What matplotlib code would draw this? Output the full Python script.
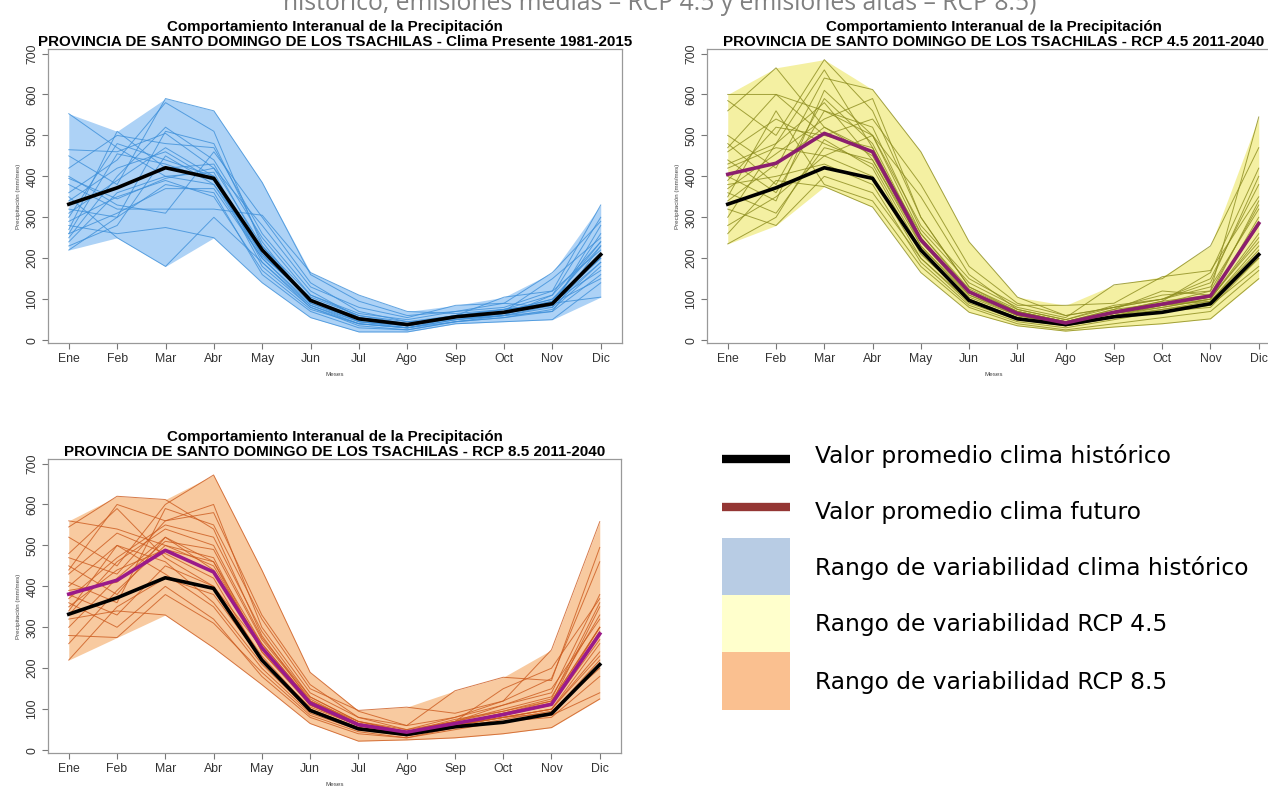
import numpy as np
import matplotlib
matplotlib.use("Agg")
from matplotlib import pyplot as plt
from matplotlib.patches import Rectangle
from matplotlib.lines import Line2D

meses = ["Ene", "Feb", "Mar", "Abr", "May", "Jun", "Jul", "Ago", "Sep", "Oct", "Nov", "Dic"]

# promedios mensuales (mm/mes)
prom_hist = [332, 372, 421, 395, 220, 97, 52, 38, 57, 68, 89, 209]
prom_rcp45 = [405, 432, 505, 460, 245, 118, 65, 42, 68, 88, 108, 285]
prom_rcp85 = [381, 415, 488, 435, 250, 115, 62, 44, 65, 87, 112, 284]

# series anuales, clima presente 1981-2015
anios_hist = [
    [553, 470, 400, 380, 200, 90, 45, 35, 55, 70, 95, 240],
    [465, 460, 505, 420, 230, 110, 60, 40, 60, 75, 90, 190],
    [450, 380, 590, 560, 385, 160, 95, 60, 70, 80, 120, 330],
    [420, 500, 480, 470, 260, 120, 55, 35, 55, 65, 85, 260],
    [400, 330, 310, 460, 300, 140, 70, 45, 60, 70, 100, 200],
    [380, 320, 320, 320, 305, 165, 110, 70, 65, 75, 90, 150],
    [360, 440, 580, 510, 230, 95, 50, 35, 55, 60, 80, 280],
    [350, 250, 180, 300, 190, 85, 40, 30, 50, 65, 90, 105],
    [340, 420, 460, 390, 210, 100, 45, 30, 45, 60, 70, 230],
    [320, 300, 510, 480, 240, 90, 50, 40, 60, 75, 110, 300],
    [300, 480, 440, 400, 180, 80, 35, 25, 45, 55, 75, 180],
    [290, 350, 390, 350, 170, 75, 40, 30, 50, 60, 85, 210],
    [280, 260, 275, 250, 140, 55, 20, 20, 40, 45, 50, 140],
    [270, 510, 420, 430, 220, 100, 55, 40, 60, 70, 150, 250],
    [260, 310, 370, 370, 200, 85, 45, 35, 55, 65, 95, 170],
    [250, 400, 520, 440, 250, 110, 65, 50, 70, 90, 165, 290],
    [240, 360, 400, 410, 190, 80, 40, 30, 55, 65, 90, 200],
    [230, 280, 450, 380, 220, 95, 50, 35, 60, 70, 100, 230],
    [220, 300, 380, 360, 160, 70, 30, 25, 45, 55, 70, 160],
    [310, 390, 470, 400, 210, 95, 55, 40, 60, 105, 120, 220],
    [395, 345, 395, 420, 280, 130, 80, 55, 85, 90, 80, 190],
    [260, 455, 430, 390, 205, 105, 60, 45, 50, 60, 110, 240],
]

# series anuales, RCP 4.5 2011-2040
anios_rcp45 = [
    [600, 600, 560, 500, 260, 120, 60, 40, 65, 85, 100, 300],
    [585, 500, 685, 560, 300, 130, 70, 45, 75, 90, 120, 545],
    [560, 665, 520, 450, 240, 110, 65, 40, 60, 80, 100, 250],
    [500, 420, 640, 612, 460, 240, 105, 60, 80, 100, 130, 320],
    [480, 380, 590, 480, 250, 115, 70, 45, 70, 95, 110, 280],
    [460, 540, 480, 430, 220, 100, 55, 35, 60, 85, 95, 230],
    [440, 360, 560, 520, 270, 140, 80, 55, 135, 150, 230, 470],
    [420, 470, 450, 400, 200, 90, 50, 35, 55, 75, 90, 200],
    [400, 340, 610, 500, 280, 150, 85, 85, 90, 155, 170, 350],
    [390, 520, 500, 470, 230, 110, 60, 40, 65, 80, 100, 260],
    [380, 400, 430, 380, 190, 85, 45, 30, 50, 70, 85, 180],
    [370, 455, 540, 590, 300, 130, 75, 50, 80, 100, 140, 400],
    [360, 310, 470, 440, 240, 120, 65, 40, 70, 90, 105, 290],
    [350, 560, 380, 340, 180, 80, 40, 25, 40, 55, 70, 170],
    [340, 430, 520, 460, 260, 125, 70, 45, 75, 120, 110, 340],
    [320, 280, 400, 360, 200, 95, 55, 35, 55, 70, 80, 200],
    [300, 480, 580, 440, 230, 105, 60, 40, 65, 85, 105, 240],
    [280, 350, 450, 500, 350, 160, 75, 50, 85, 100, 150, 380],
    [260, 390, 375, 325, 165, 68, 35, 22, 32, 40, 52, 150],
    [235, 300, 490, 420, 210, 100, 55, 35, 60, 75, 95, 220],
    [470, 600, 500, 540, 380, 180, 90, 60, 80, 110, 120, 330],
    [430, 480, 660, 470, 250, 120, 70, 45, 70, 95, 165, 420],
]

# series anuales, RCP 8.5 2011-2040
anios_rcp85 = [
    [560, 540, 500, 450, 250, 110, 60, 40, 60, 85, 110, 300],
    [545, 620, 612, 540, 280, 120, 65, 45, 65, 90, 115, 350],
    [520, 450, 600, 672, 440, 190, 95, 60, 80, 110, 140, 380],
    [480, 590, 470, 400, 230, 100, 55, 40, 60, 80, 100, 260],
    [470, 430, 560, 600, 300, 140, 80, 60, 145, 178, 170, 495],
    [450, 380, 520, 460, 260, 120, 70, 45, 70, 95, 120, 300],
    [430, 530, 480, 420, 220, 105, 60, 40, 60, 80, 100, 240],
    [410, 360, 590, 550, 320, 150, 97, 105, 90, 120, 245, 558],
    [400, 500, 430, 350, 200, 90, 50, 35, 55, 75, 95, 200],
    [390, 410, 510, 490, 270, 125, 65, 45, 70, 100, 130, 330],
    [380, 330, 450, 400, 250, 110, 60, 40, 65, 85, 110, 290],
    [370, 470, 550, 520, 290, 130, 70, 45, 75, 95, 125, 360],
    [360, 300, 400, 320, 180, 80, 40, 30, 50, 70, 80, 180],
    [350, 440, 490, 460, 240, 115, 60, 40, 65, 90, 110, 270],
    [340, 500, 460, 360, 210, 95, 55, 35, 60, 80, 90, 220],
    [320, 340, 330, 250, 160, 65, 22, 25, 30, 40, 55, 125],
    [300, 420, 520, 440, 260, 120, 65, 45, 70, 110, 150, 320],
    [280, 275, 380, 310, 190, 85, 45, 30, 55, 70, 85, 140],
    [260, 390, 500, 470, 240, 110, 60, 40, 65, 90, 120, 300],
    [220, 350, 420, 380, 220, 100, 55, 35, 60, 80, 100, 230],
    [440, 600, 560, 580, 330, 160, 80, 50, 80, 120, 175, 460],
    [330, 460, 540, 500, 275, 130, 70, 50, 70, 150, 200, 370],
]

titulo1 = "Comportamiento Interanual de la Precipitación"
subtitulos = ["PROVINCIA DE SANTO DOMINGO DE LOS TSACHILAS - Clima Presente 1981-2015",
              "PROVINCIA DE SANTO DOMINGO DE LOS TSACHILAS - RCP 4.5 2011-2040",
              "PROVINCIA DE SANTO DOMINGO DE LOS TSACHILAS - RCP 8.5 2011-2040"]

leyenda = ["Valor promedio clima histórico", "Valor promedio clima futuro",
           "Rango de variabilidad clima histórico", "Rango de variabilidad RCP 4.5",
           "Rango de variabilidad RCP 8.5"]

rfont = ["Liberation Sans", "DejaVu Sans"]
W, H = 1268, 787
fig = plt.figure(figsize=(W / 100, H / 100), dpi=100)


def panel(rect_px, anios, color_rango, color_linea, subtitulo, prom_fut=None, color_fut=None):
    l, t, r, b = rect_px
    ax = fig.add_axes([l / W, 1 - b / H, (r - l) / W, (b - t) / H])
    x = np.arange(12)
    datos = np.array(anios)
    ax.fill_between(x, datos.min(axis=0), datos.max(axis=0), color=color_rango, lw=0)
    for fila in datos:
        ax.plot(x, fila, color=color_linea, lw=0.7, alpha=0.8)
    ax.plot(x, prom_hist, color="black", lw=2.6)
    if prom_fut is not None:
        ax.plot(x, prom_fut, color=color_fut, lw=2.6)
    ax.set_xlim(-0.43, 11.44)
    ax.set_ylim(-7, 711)
    ax.set_xticks(x)
    ax.set_xticklabels(meses, family=rfont, fontsize=8.8, color="#333333")
    ax.set_yticks(range(0, 701, 100))
    ax.set_yticklabels([str(v) for v in range(0, 701, 100)], rotation=90, va="center",
                       family=rfont, fontsize=8.8, color="#333333")
    ax.tick_params(length=4, width=0.8, color="#777777", pad=3)
    for s in ax.spines.values():
        s.set_color("#999999")
        s.set_linewidth(0.9)
    ax.set_xlabel("Meses", fontsize=4.5, family=rfont, color="#444444", labelpad=5)
    ax.set_ylabel("Precipitación (mm/mes)", fontsize=4.5, family=rfont, color="#444444", labelpad=4)
    ax.set_title(titulo1 + "\n" + subtitulo, fontsize=10.9, fontweight="bold",
                 family=rfont, linespacing=1.1, pad=2)
    return ax


panel((48, 49, 622, 343), anios_hist, "#add2f6", "#3d8fd9", subtitulos[0])
panel((707, 49, 1280, 343), anios_rcp45, "#f4f0a2", "#8c8c1e", subtitulos[1],
      prom_rcp45, "#8b1e6e")
panel((48, 459, 621, 753), anios_rcp85, "#f8caa0", "#cc5a1e", subtitulos[2],
      prom_rcp85, "#9a1a8a")

# leyenda dibujada en pixeles
lg = fig.add_axes([0, 0, 1, 1], facecolor="none")
lg.set_xlim(0, W)
lg.set_ylim(H, 0)
lg.axis("off")
lg.add_line(Line2D([722, 790], [459, 459], color="black", lw=6, solid_capstyle="butt"))
lg.add_line(Line2D([722, 790], [507, 507], color="#943634", lw=6, solid_capstyle="butt"))
lg.add_patch(Rectangle((722, 538), 68, 57, color="#b8cce4", lw=0))
lg.add_patch(Rectangle((722, 595), 68, 57, color="#ffffcc", lw=0))
lg.add_patch(Rectangle((722, 652), 68, 58, color="#fac090", lw=0))
for texto, yc in zip(leyenda, [456, 513, 568, 625, 682]):
    lg.text(815, yc, texto, fontsize=16.8, family="DejaVu Sans", va="center", ha="left")

fig.text(283 / W, 1 - 10 / H, "histórico, emisiones medias – RCP 4.5 y emisiones altas – RCP 8.5)",
         fontsize=17.8, family="Open Sans", color="#808080", va="baseline", ha="left")

fig.savefig("out.png", dpi=100)
